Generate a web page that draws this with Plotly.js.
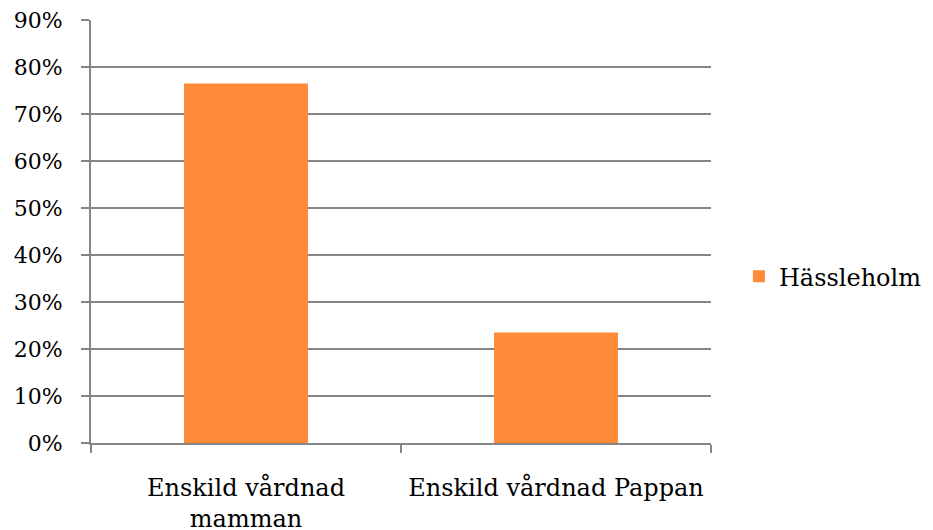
<!DOCTYPE html>
<html>
<head>
<meta charset="utf-8">
<script src="https://cdn.plot.ly/plotly-3.0.1.min.js"></script>
<style>html,body{margin:0;padding:0;background:#fff;}#chart{width:933px;height:530px;}</style>
</head>
<body>
<div id="chart"></div>
<script>
const categories = ["Enskild vårdnad<br>mamman", "Enskild vårdnad Pappan"];
const seriesName = "Hässleholm";
const values = [0.765, 0.235];
const yTickVals = [0, 0.1, 0.2, 0.3, 0.4, 0.5, 0.6, 0.7, 0.8, 0.9];
const yTickText = ["0%", "10%", "20%", "30%", "40%", "50%", "60%", "70%", "80%", "90%"];

const gray = "#868686";
const family = "DejaVu Serif, Liberation Serif, serif";
const yFont = {family: family, size: 22, color: "#000"};
const xFont = {family: family, size: 24, color: "#000"};

Plotly.newPlot("chart", [{
  type: "bar",
  x: categories,
  y: values,
  name: seriesName,
  marker: {color: "#FF8A3A"},
  width: 0.4,
  showlegend: true,
  hoverinfo: "skip"
}], {
  width: 933,
  height: 530,
  margin: {l: 91, r: 222, t: 20, b: 87, pad: 0, autoexpand: false},
  paper_bgcolor: "#fff",
  plot_bgcolor: "#fff",
  font: yFont,
  xaxis: {
    type: "category",
    range: [-0.5, 1.5],
    showline: true,
    linecolor: gray,
    linewidth: 2,
    ticks: "outside",
    tickson: "boundaries",
    ticklen: 8,
    tickwidth: 2,
    tickcolor: gray,
    showgrid: false,
    ticklabelstandoff: 22,
    tickfont: xFont,
    automargin: false,
    fixedrange: true
  },
  yaxis: {
    range: [0, 0.9],
    tickvals: yTickVals,
    ticktext: yTickText,
    showline: true,
    linecolor: gray,
    linewidth: 2,
    ticks: "outside",
    ticklen: 8,
    tickwidth: 2,
    tickcolor: gray,
    showgrid: true,
    gridcolor: gray,
    gridwidth: 2,
    zeroline: false,
    ticklabelstandoff: 14,
    tickfont: yFont,
    automargin: false,
    fixedrange: true
  },
  legend: {
    x: 1.045,
    y: 0.393,
    xanchor: "left",
    yanchor: "middle",
    font: xFont,
    bgcolor: "rgba(0,0,0,0)",
    itemwidth: 30
  },
  showlegend: true
}, {displayModeBar: false, staticPlot: true});
</script>
</body>
</html>
